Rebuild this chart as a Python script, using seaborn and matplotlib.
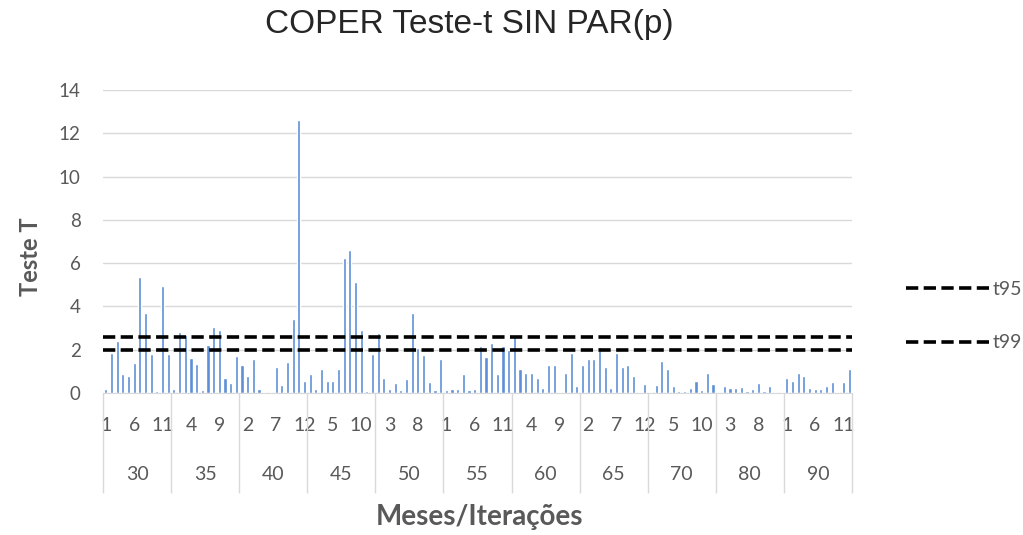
import numpy as np
import pandas as pd
import matplotlib.pyplot as plt
import seaborn as sns

# grupos (anos) e meses
grupos = ['30', '35', '40', '45', '50', '55', '60', '65', '70', '80', '90']
meses = list(range(1, 13))

# valores do teste T por grupo (12 meses cada)
g30 = [0.2, 1.85, 2.4, 0.9, 0.8, 1.4, 5.35, 3.7, 1.8, 0.1, 4.95, 1.8]
g35 = [0.2, 2.8, 2.7, 1.6, 1.35, 0.15, 2.2, 3.05, 2.9, 0.7, 0.45, 1.7]
g40 = [1.3, 0.8, 1.57, 0.2, 0.05, 0.05, 1.2, 0.37, 1.45, 3.4, 12.6, 0.57]
g45 = [0.9, 0.2, 1.1, 0.57, 0.57, 1.1, 6.23, 6.6, 5.15, 2.9, 0.1, 1.8]
g50 = [2.76, 0.68, 0.2, 0.48, 0.14, 0.66, 3.69, 2.1, 1.76, 0.52, 0.14, 1.56]
g55 = [0.14, 0.2, 0.2, 0.88, 0.14, 0.2, 2.15, 1.68, 2.3, 0.9, 2.15, 2.0]
g60 = [2.69, 1.1, 0.91, 0.91, 0.68, 0.22, 1.3, 1.3, 0.05, 0.91, 1.84, 0.32]
g65 = [1.3, 1.56, 1.56, 2.14, 1.22, 0.22, 1.84, 1.22, 1.3, 0.79, 0.05, 0.42]
g70 = [0.05, 0.37, 1.48, 1.11, 0.32, 0.11, 0.11, 0.22, 0.57, 0.14, 0.91, 0.42]
g80 = [0.05, 0.32, 0.22, 0.22, 0.29, 0.11, 0.17, 0.45, 0.11, 0.32, 0.03, 0.03]
g90 = [0.68, 0.57, 0.91, 0.79, 0.22, 0.17, 0.17, 0.32, 0.5, 0.03, 0.5, 1.1]

# valores criticos
t95 = 1.98
t99 = 2.6

valores = g30 + g35 + g40 + g45 + g50 + g55 + g60 + g65 + g70 + g80 + g90
df = pd.DataFrame({'grupo': np.repeat(grupos, 12), 'mes': meses * len(grupos), 'valor': valores})
df['pos'] = np.arange(len(df))

sns.set_style('white')
plt.rcParams['font.family'] = ['Lato', 'DejaVu Sans']
cinza = '#595959'

fig, ax = plt.subplots(figsize=(10.23, 5.35), dpi=100)
fig.subplots_adjust(left=103/1023, right=852/1023, bottom=142/535, top=445/535)

sns.barplot(data=df, x='pos', y='valor', color='#5B8FD6', saturation=1,
            width=0.55, errorbar=None, ax=ax)

l95 = ax.axhline(t95, color='black', lw=2.6, ls=(0, (3.4, 1.5)), label='t95')
l99 = ax.axhline(t99, color='black', lw=2.6, ls=(0, (3.4, 1.5)), label='t99')

ax.set_xlim(-0.5, len(df) - 0.5)
ax.set_ylim(0, 14)
ax.set_yticks(range(0, 15, 2))
ax.yaxis.grid(True, color='#d9d9d9', lw=1)
ax.set_axisbelow(True)
for s in ['left', 'top', 'right']:
    ax.spines[s].set_visible(False)
ax.spines['bottom'].set_color('#d9d9d9')

ax.set_xticks(df['pos'][::5])
ax.set_xticklabels(df['mes'][::5])
ax.tick_params(axis='x', length=0, pad=17, labelsize=14, colors=cinza)
ax.tick_params(axis='y', length=0, pad=16, labelsize=13.5, colors=cinza)
ax.set_xlabel('')
ax.set_ylabel('')

# rotulos dos grupos e separadores
trans = ax.get_xaxis_transform()
for g in grupos:
    c = df.loc[df['grupo'] == g, 'pos'].mean()
    ax.text(c, -0.27, g, transform=trans, ha='center', va='center', fontsize=14, color=cinza)
limites = list(df['pos'][::12] - 0.5) + [len(df) - 0.5]
ax.vlines(limites, -0.33, 0, transform=trans, clip_on=False, color='#d9d9d9', lw=1)

fig.text(469/1023, 1 - 24/535, 'COPER Teste-t SIN PAR(p)', ha='center', va='center',
         fontsize=24, color='#262626', family=['Liberation Sans', 'DejaVu Sans'])
fig.text(30/1023, 1 - 257/535, 'Teste T', rotation=90, ha='center', va='center',
         fontsize=17, fontweight='bold', color=cinza)
fig.text(479/1023, 1 - 517/535, 'Meses/Iterações', ha='center', va='center',
         fontsize=20, fontweight='bold', color=cinza)

fig.legend(handles=[l95, l99], labels=['t95', 't99'], loc='center left',
           bbox_to_anchor=(888/1023, 1 - 316/535), frameon=False, handlelength=4.3,
           labelspacing=1.9, handletextpad=0.2, fontsize=14, labelcolor=cinza)

fig.savefig('out.png', dpi=100)
